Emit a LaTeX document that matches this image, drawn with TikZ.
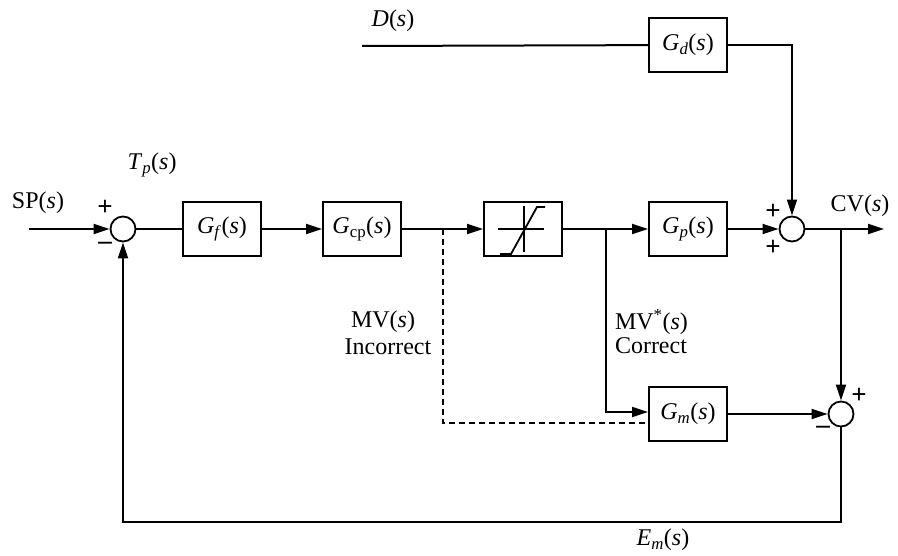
\documentclass[tikz,border=0pt]{standalone}
\usepackage{fontspec}
\setmainfont{Liberation Serif}
\usetikzlibrary{arrows.meta}
\begin{document}
\begin{tikzpicture}[x=1pt,y=-1pt,
  line width=2pt,
  every node/.style={font=\fontsize{24}{28}\selectfont, inner sep=0pt},
  blk/.style={draw, line width=1.8pt, minimum width=78pt, minimum height=54pt, inner sep=0pt},
  sumc/.style={draw, circle, minimum size=25pt, inner sep=0pt, line width=1.8pt},
  sgn/.style={font=\fontsize{27}{27}\selectfont\bfseries, inner sep=0pt},
  arr/.style={-{Triangle[length=16pt,width=10pt]}},
  dsh/.style={dash pattern=on 6pt off 4pt}]
\useasboundingbox (0,0) rectangle (898,556);
% blocks
\node[sumc] (s1) at (123,229) {};
\node[blk] (gf) at (222,229) {\textit{G}\textsubscript{\textit{f}}(\textit{s})};
\node[blk] (gcp) at (362,229) {\textit{G}\textsubscript{cp}(\textit{s})};
\node[blk] (sat) at (523,229) {};
\node[blk] (gp) at (688,229) {\textit{G}\textsubscript{\textit{p}}(\textit{s})};
\node[sumc] (s2) at (792,229) {};
\node[blk] (gd) at (688,45) {\textit{G}\textsubscript{\textit{d}}(\textit{s})};
\node[blk] (gm) at (688,414) {\textit{G}\textsubscript{\textit{m}}(\textit{s})};
\node[sumc] (s3) at (841,414) {};
% saturation symbol
\draw[line width=1.8pt] ([shift={(-25,0)}]sat.center) -- ([shift={(21,0)}]sat.center);
\draw[line width=1.8pt] ([shift={(1,-23)}]sat.center) -- ([shift={(1,23)}]sat.center);
\draw[line width=1.8pt] ([shift={(-23,25)}]sat.center) -- ([shift={(-12,25)}]sat.center)
  -- ([shift={(14,-22)}]sat.center) -- ([shift={(22,-22)}]sat.center);
% free ends and branch points
\coordinate (in) at (29,229);
\coordinate (din) at (362,46);
\coordinate (out) at (884,229);
\coordinate (b1) at (443,229);
\coordinate (b2) at (606,229);
\coordinate (b3) at (841,229);
\coordinate (fb) at (841,522);
% connectors
\draw[arr] (in) -- (s1);
\draw (s1) -- (gf);
\draw[arr] (gf) -- (gcp);
\draw[arr] (gcp) -- (sat);
\draw[arr] (sat) -- (gp);
\draw[arr] (gp) -- (s2);
\draw (din) -- (gd);
\draw[arr] (gd.east) -| (s2.north);
\draw[arr] (s2) -- (out);
\draw[arr] (b3) -- (s3.north);
\draw[arr] (b2) |- ([yshift=2pt]gm.west);
\draw[dsh] (b1) |- ([yshift=-9pt]gm.west);
\draw[arr] (gm) -- (s3);
\draw[arr] (s3.south) -- (fb) -| (s1.south);
% labels
\node (lsp) at (38,203) {SP(\textit{s})};
\node (ltp) at (152,165) {\textit{T}\textsubscript{\textit{p}}(\textit{s})};
\node (ld) at (393,21) {\textit{D}(\textit{s})};
\node (lcv) at (860,206) {CV(\textit{s})};
\node (lmv) at (383,322) {MV(\textit{s})};
\node (linc) at (388,347) {Incorrect};
\node[anchor=west] (lmvs) at (614,322) {MV\textsuperscript{*}(\textit{s})};
\node[anchor=west] (lcor) at (614,346) {Correct};
\node (lem) at (663,540) {\textit{E}\textsubscript{\textit{m}}(\textit{s})};
% signs
\node[sgn] (p1) at (105,208) {+};
\node[sgn] (m1) at (105,246) {–};
\node[sgn] (p2) at (773,212) {+};
\node[sgn] (p3) at (773,248) {+};
\node[sgn] (p4) at (859,396) {+};
\node[sgn] (m3) at (823,430) {–};
\end{tikzpicture}
\end{document}
